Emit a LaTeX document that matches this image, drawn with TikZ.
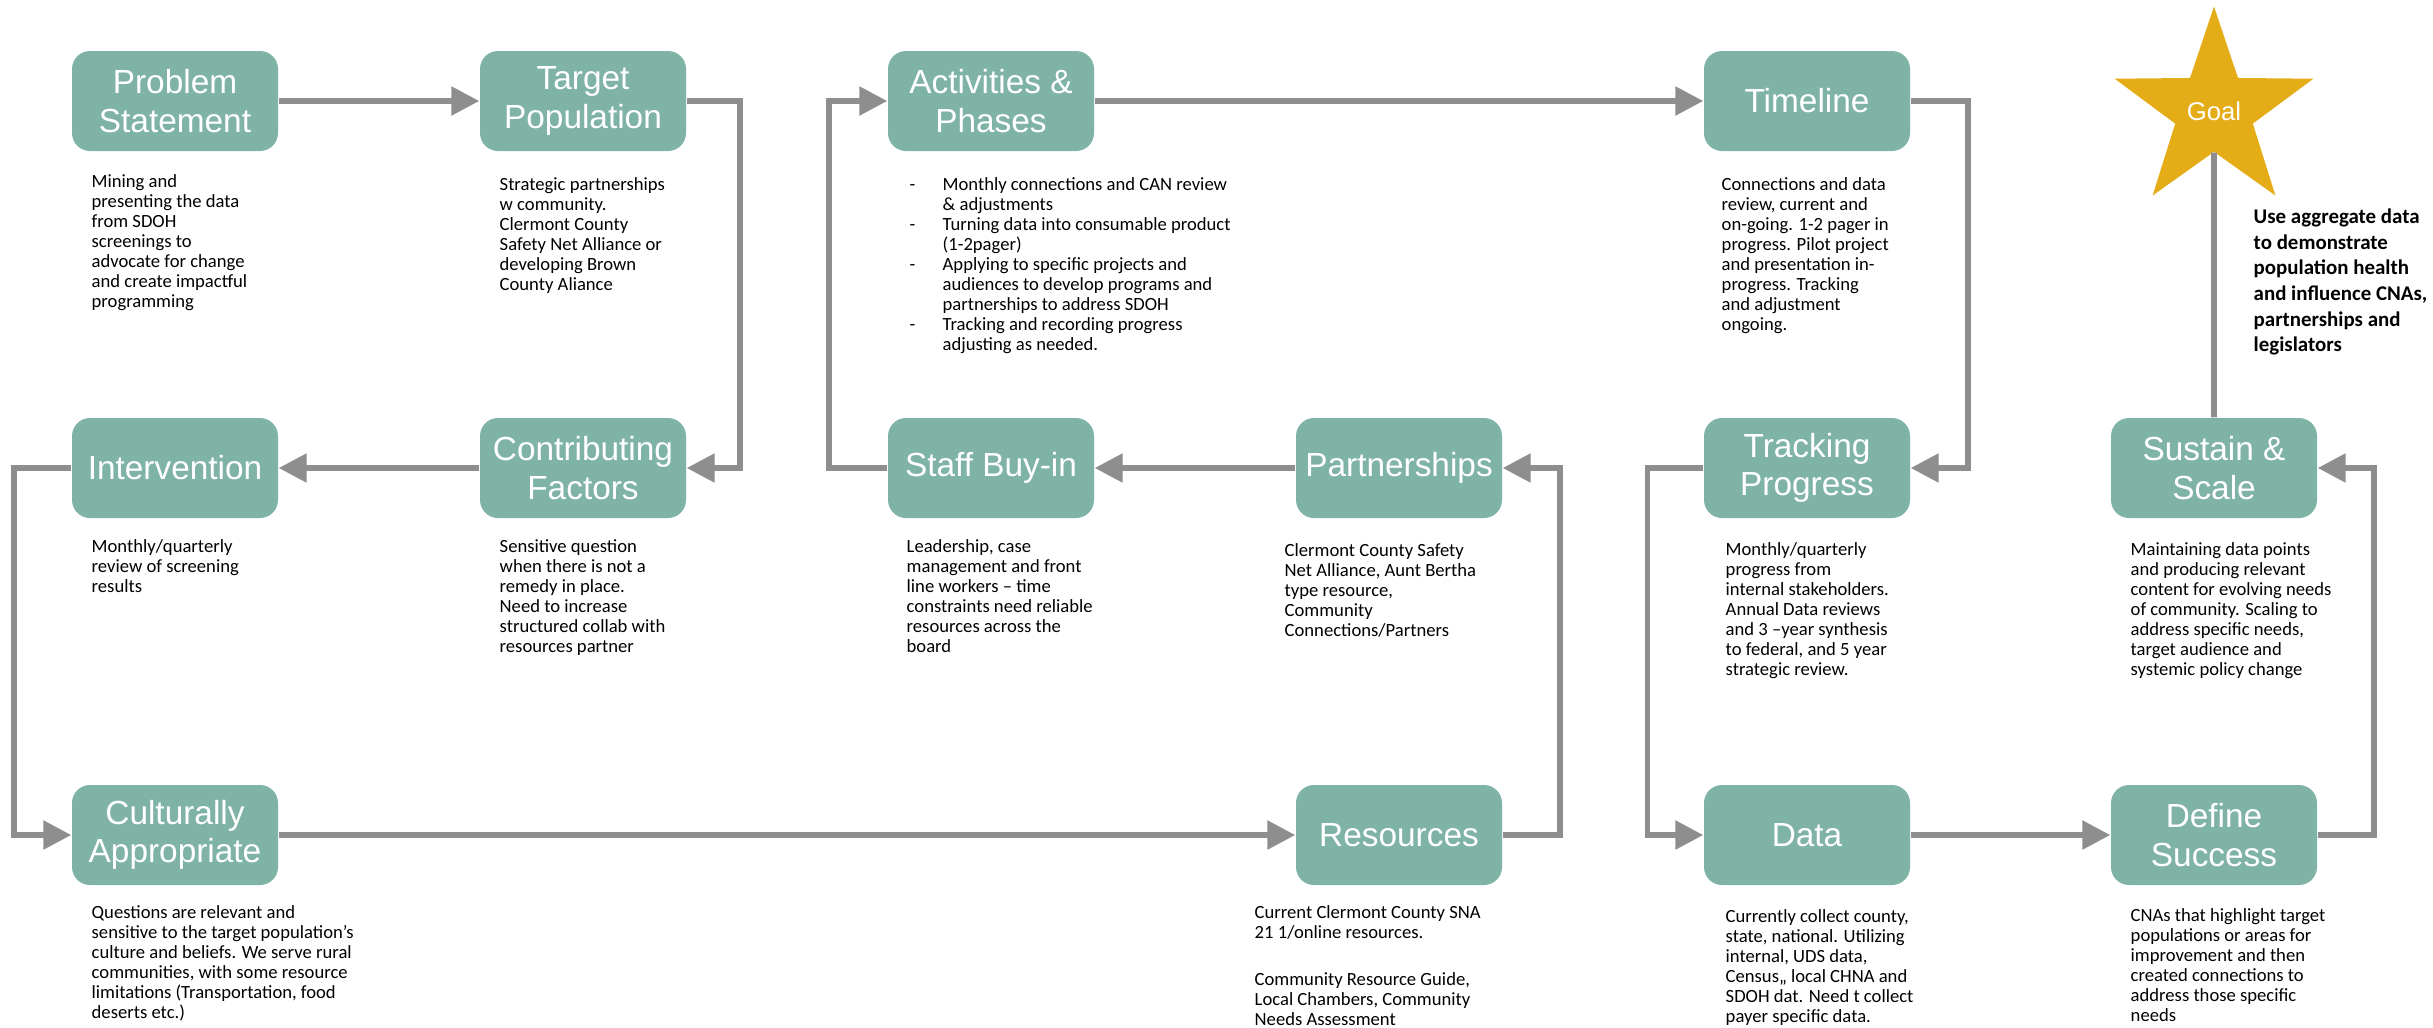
\documentclass[tikz,border=0pt]{standalone}
\usepackage{fontspec}
\setmainfont{Carlito}
\newfontfamily\labelfont{Liberation Sans}
\usetikzlibrary{arrows.meta,shapes.geometric}
\definecolor{boxteal}{HTML}{7FB3A6}
\definecolor{flowgray}{HTML}{8E8E8E}
\definecolor{goalgold}{HTML}{E4AC17}
\newcommand{\dashitem}[1]{\makebox[0.33cm][l]{-}#1}
\newcommand{\dashcont}{\hspace*{0.33cm}}

\begin{document}
\begin{tikzpicture}[
	stage/.style={fill=boxteal, rounded corners=0.18cm, minimum width=2.06cm, minimum height=1cm, inner sep=0pt, text=white, align=center, font=\labelfont\fontsize{9.5}{11}\selectfont},
	note/.style={anchor=north west, align=left, inner sep=0pt, font=\fontsize{5.3}{5.69}\selectfont},
	flow/.style={draw=flowgray, line width=1.6pt, -{Triangle[length=0.28cm, width=0.28cm]}},
	]
	\useasboundingbox (0, 0) rectangle (24.33, -10.27);

	\node[stage] (problem) at (1.75, -1.01) {Problem\\Statement};
	\node[stage] (target) at (5.83, -1.01) {Target\\Population};
	\node[stage] (activities) at (9.91, -1.01) {Activities \&\\Phases};
	\node[stage] (timeline) at (18.07, -1.01) {Timeline};
	\node[star, star points=5, star point ratio=2.56, minimum size=2.09cm, inner sep=0pt, fill=goalgold, text=white, font=\labelfont\fontsize{7.3}{8.5}\selectfont] (goal) at (22.14, -1.11) {Goal};

	\node[stage] (intervention) at (1.75, -4.68) {Intervention};
	\node[stage] (factors) at (5.83, -4.68) {Contributing\\Factors};
	\node[stage] (buyin) at (9.91, -4.68) {Staff Buy-in};
	\node[stage] (partners) at (13.99, -4.68) {Partnerships};
	\node[stage] (tracking) at (18.07, -4.68) {Tracking\\Progress};
	\node[stage] (sustain) at (22.14, -4.68) {Sustain \&\\Scale};

	\node[stage] (cultural) at (1.75, -8.35) {Culturally\\Appropriate};
	\node[stage] (resources) at (13.99, -8.35) {Resources};
	\node[stage] (data) at (18.07, -8.35) {Data};
	\node[stage] (success) at (22.14, -8.35) {Define\\Success};

	\draw[flow] (problem) -- (target);
	\draw[flow] (target.east) -- ++(0.53, 0) |- (factors.east);
	\draw[flow] (factors) -- (intervention);
	\draw[flow] (intervention.west) -- ++(-0.57, 0) |- (cultural.west);
	\draw[flow] (cultural) -- (resources);
	\draw[flow] (resources.east) -- ++(0.57, 0) |- (partners.east);
	\draw[flow] (partners) -- (buyin);
	\draw[flow] (buyin.west) -- ++(-0.58, 0) |- (activities.west);
	\draw[flow] (activities) -- (timeline);
	\draw[flow] (timeline.east) -- ++(0.57, 0) |- (tracking.east);
	\draw[flow] (tracking.west) -- ++(-0.56, 0) |- (data.west);
	\draw[flow] (data) -- (success);
	\draw[flow] (success.east) -- ++(0.56, 0) |- (sustain.east);
	\draw[flow, -] (sustain) -- (goal);

	\node[note] (problemnote) at (0.91, -1.74) {Mining and\\presenting the data\\from SDOH\\screenings to\\advocate for change\\and create impactful\\programming};
	\node[note] (targetnote) at (4.99, -1.77) {Strategic partnerships\\w community.\\Clermont County\\Safety Net Alliance or\\developing Brown\\County Aliance};
	\node[note] (activitiesnote) at (9.09, -1.77) {\dashitem{Monthly connections and CAN review}\\\dashcont\& adjustments\\\dashitem{Turning data into consumable product}\\\dashcont(1-2pager)\\\dashitem{Applying to specific projects and}\\\dashcont audiences to develop programs and\\\dashcont partnerships to address SDOH\\\dashitem{Tracking and recording progress}\\\dashcont adjusting as needed.};
	\node[note] (timelinenote) at (17.21, -1.77) {Connections and data\\review, current and\\on-going. 1-2 pager in\\progress. Pilot project\\and presentation in-\\progress. Tracking\\and adjustment\\ongoing.};
	\node[note, font=\bfseries\fontsize{5.95}{7.3}\selectfont] (goalnote) at (22.53, -2.08) {Use aggregate data\\to demonstrate\\population health\\and influence CNAs,\\partnerships and\\legislators};

	\node[note] (interventionnote) at (0.91, -5.39) {Monthly/quarterly\\review of screening\\results};
	\node[note] (factorsnote) at (4.99, -5.39) {Sensitive question\\when there is not a\\remedy in place.\\Need to increase\\structured collab with\\resources partner};
	\node[note] (buyinnote) at (9.06, -5.39) {Leadership, case\\management and front\\line workers – time\\constraints need reliable\\resources across the\\board};
	\node[note] (partnersnote) at (12.84, -5.43) {Clermont County Safety\\Net Alliance, Aunt Bertha\\type resource,\\Community\\Connections/Partners};
	\node[note] (trackingnote) at (17.25, -5.42) {Monthly/quarterly\\progress from\\internal stakeholders.\\Annual Data reviews\\and 3 –year synthesis\\to federal, and 5 year\\strategic review.};
	\node[note] (sustainnote) at (21.30, -5.42) {Maintaining data points\\and producing relevant\\content for evolving needs\\of community. Scaling to\\address specific needs,\\target audience and\\systemic policy change};

	\node[note] (culturalnote) at (0.91, -9.05) {Questions are relevant and\\sensitive to the target population's\\culture and beliefs. We serve rural\\communities, with some resource\\limitations (Transportation, food\\deserts etc.)};
	\node[note] (resourcesnote) at (12.54, -9.05) {Current Clermont County SNA\\21 1/online resources.\\[0.27cm]Community Resource Guide,\\Local Chambers, Community\\Needs Assessment};
	\node[note] (datanote) at (17.25, -9.09) {Currently collect county,\\state, national. Utilizing\\internal, UDS data,\\Census,, local CHNA and\\SDOH dat. Need t collect\\payer specific data.};
	\node[note] (successnote) at (21.30, -9.08) {CNAs that highlight target\\populations or areas for\\improvement and then\\created connections to\\address those specific\\needs};
\end{tikzpicture}
\end{document}
